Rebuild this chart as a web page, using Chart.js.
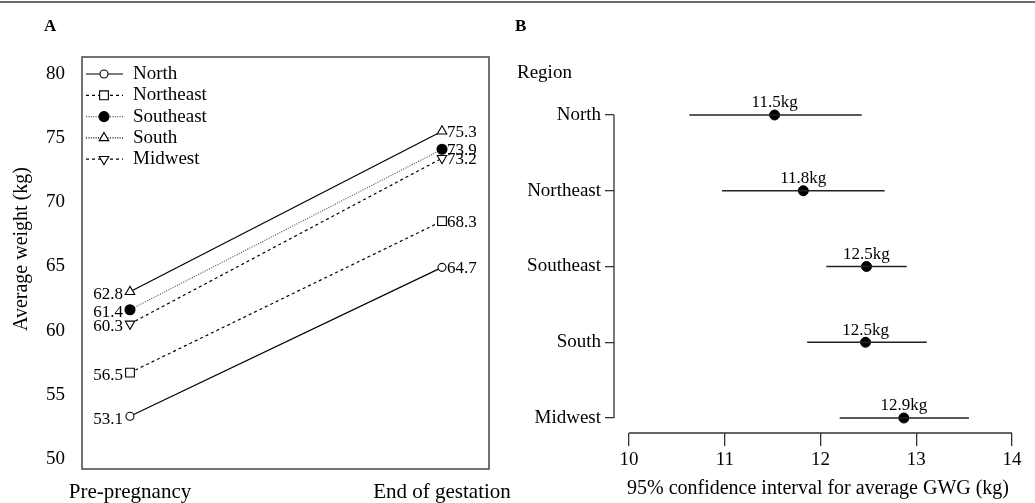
<!DOCTYPE html>
<html>
<head>
<title>Average weight and GWG by region</title>
<style>
  body { margin: 0; background: #fff; }
  #rule { position: absolute; left: 0; top: 1px; width: 1035px; height: 2px; background: #6b6b6b; }
  #chartA { position: absolute; left: 0; top: 0; }
  #chartB { position: absolute; left: 510px; top: 0; }
</style>
</head>
<body>

<div id="rule"></div>
<canvas id="chartA" width="530" height="503"></canvas>
<canvas id="chartB" width="525" height="503"></canvas>

<script src="https://cdn.jsdelivr.net/npm/chart.js"></script>

<script>
    // panel A data
    const periods = ['Pre-pregnancy', 'End of gestation'];
    const regions = ['North', 'Northeast', 'Southeast', 'South', 'Midwest'];
    const prePregnancy = [53.1, 56.5, 61.4, 62.8, 60.3];
    const endGestation = [64.7, 68.3, 73.9, 75.3, 73.2];
    const weightTicks = [50, 55, 60, 65, 70, 75, 80];

    // panel B data
    const gwgMean = [11.52, 11.82, 12.48, 12.47, 12.87];
    const gwgLow = [10.63, 10.97, 12.06, 11.86, 12.20];
    const gwgHigh = [12.43, 12.67, 12.90, 13.11, 13.55];
    const gwgTicks = [10, 11, 12, 13, 14];

    const SERIF = "'Liberation Serif', 'DejaVu Serif', serif";
    const font = (size, weight) => ({ family: SERIF, size: size, weight: weight || 'normal' });

    // marker / line look for each region
    const looks = [
        { point: 'circle',   radius: 4,   rotation: 0,   filled: false, color: '#000', dash: [],     legendDash: [] },
        { point: 'rect',     radius: 6.2, rotation: 0,   filled: false, color: '#000', dash: [3, 3], legendDash: [3, 3] },
        { point: 'circle',   radius: 5,   rotation: 0,   filled: true,  color: '#555', dash: [1, 1.4], legendDash: [1, 1.4] },
        { point: 'triangle', radius: 5.5, rotation: 0,   filled: false, color: '#000', dash: [],     legendDash: [1, 1.4] },
        { point: 'triangle', radius: 5.5, rotation: 180, filled: false, color: '#000', dash: [3, 3], legendDash: [3, 3] }
    ];

    const datasetsA = regions.map((name, i) => ({
        label: name,
        data: [{ x: 0, y: prePregnancy[i] }, { x: 1, y: endGestation[i] }],
        showLine: true,
        borderColor: looks[i].color,
        borderWidth: 1.2,
        borderDash: looks[i].dash,
        pointStyle: looks[i].point,
        pointRotation: looks[i].rotation,
        pointRadius: looks[i].radius,
        pointBorderWidth: 1.1,
        pointBorderColor: '#000',
        pointBackgroundColor: looks[i].filled ? '#000' : '#fff'
    }));

    const panelAExtras = {
        id: 'panelAExtras',
        afterDatasetsDraw(chart) {
            const ctx = chart.ctx;
            const area = chart.chartArea;
            ctx.save();

            // box
            ctx.strokeStyle = '#444';
            ctx.lineWidth = 1.5;
            ctx.setLineDash([]);
            ctx.strokeRect(area.left, area.top, area.right - area.left, area.bottom - area.top);

            // value labels
            ctx.fillStyle = '#000';
            ctx.font = "17px " + SERIF;
            ctx.textBaseline = 'middle';
            chart.data.datasets.forEach((ds, i) => {
                const pts = chart.getDatasetMeta(i).data;
                ctx.textAlign = 'right';
                ctx.fillText(prePregnancy[i].toFixed(1), pts[0].x - 7, pts[0].y + 3);
                ctx.textAlign = 'left';
                ctx.fillText(endGestation[i].toFixed(1), pts[1].x + 5, pts[1].y + 1);
            });

            // legend inside the box
            ctx.font = "19px " + SERIF;
            regions.forEach((name, i) => {
                const y = area.top + 17 + i * 21.3;
                const lk = looks[i];
                ctx.strokeStyle = lk.color;
                ctx.lineWidth = 1.2;
                ctx.setLineDash(lk.legendDash);
                ctx.beginPath();
                ctx.moveTo(area.left + 4, y);
                ctx.lineTo(area.left + 41, y);
                ctx.stroke();
                ctx.setLineDash([]);
                ctx.strokeStyle = '#000';
                ctx.fillStyle = lk.filled ? '#000' : '#fff';
                ctx.lineWidth = 1.1;
                Chart.helpers.drawPoint(ctx, {
                    pointStyle: lk.point, rotation: lk.rotation,
                    radius: lk.radius, borderWidth: 1.1
                }, area.left + 22, y);
                ctx.fillStyle = '#000';
                ctx.textAlign = 'left';
                ctx.fillText(name, area.left + 51, y);
            });

            // panel letter and y title
            ctx.font = "bold 17px " + SERIF;
            ctx.fillText('A', 44, 27);
            ctx.font = "20px " + SERIF;
            ctx.translate(22, 249);
            ctx.rotate(-Math.PI / 2);
            ctx.textAlign = 'center';
            ctx.fillText('Average weight (kg)', 0, 0);
            ctx.restore();
        }
    };

    new Chart(document.getElementById('chartA'), {
        type: 'scatter',
        data: { datasets: datasetsA },
        options: {
            responsive: false,
            animation: false,
            layout: { padding: { top: 57, right: 41, left: 0, bottom: 0 } },
            plugins: { legend: { display: false }, tooltip: { enabled: false } },
            scales: {
                x: {
                    type: 'linear',
                    min: -0.1538,
                    max: 1.1506,
                    grid: { display: false, drawTicks: false },
                    border: { display: false },
                    afterBuildTicks: s => { s.ticks = periods.map((p, i) => ({ value: i })); },
                    ticks: { callback: v => periods[v], font: font(21), color: '#000', padding: 11, maxRotation: 0, autoSkip: false },
                    afterFit: s => { s.height = 34; }
                },
                y: {
                    min: 48.99,
                    max: 81.09,
                    grid: { display: false, drawTicks: false },
                    border: { display: false },
                    afterBuildTicks: s => { s.ticks = weightTicks.map(v => ({ value: v })); },
                    ticks: { font: font(19), color: '#000', padding: 17, labelOffset: 3 },
                    afterFit: s => { s.width = 82; }
                }
            }
        },
        plugins: [panelAExtras]
    });

    // panel B
    const ciSets = regions.map((name, i) => ({
        label: name + ' CI',
        data: [{ x: gwgLow[i], y: i }, { x: gwgHigh[i], y: i }],
        showLine: true,
        borderColor: '#222',
        borderWidth: 1.3,
        pointRadius: 0
    }));

    const meanSet = {
        label: 'Average GWG',
        data: regions.map((name, i) => ({ x: gwgMean[i], y: i })),
        pointRadius: 5,
        pointBackgroundColor: '#000',
        pointBorderColor: '#000',
        showLine: false
    };

    const panelBExtras = {
        id: 'panelBExtras',
        afterDatasetsDraw(chart) {
            const ctx = chart.ctx;
            const area = chart.chartArea;
            const xs = chart.scales.x, ys = chart.scales.y;
            ctx.save();

            // detached axis lines, R style
            ctx.strokeStyle = '#333';
            ctx.lineWidth = 1.3;
            ctx.beginPath();
            ctx.moveTo(area.left, ys.getPixelForValue(0));
            ctx.lineTo(area.left, ys.getPixelForValue(regions.length - 1));
            ctx.moveTo(xs.getPixelForValue(gwgTicks[0]), area.bottom);
            ctx.lineTo(xs.getPixelForValue(gwgTicks[gwgTicks.length - 1]), area.bottom);
            ctx.stroke();

            // value labels above points
            const pts = chart.getDatasetMeta(chart.data.datasets.length - 1).data;
            ctx.fillStyle = '#000';
            ctx.font = "17px " + SERIF;
            ctx.textAlign = 'center';
            ctx.textBaseline = 'middle';
            pts.forEach((p, i) => {
                ctx.fillText(gwgMean[i].toFixed(1) + 'kg', p.x, p.y - 12);
            });

            ctx.textAlign = 'left';
            ctx.font = "bold 17px " + SERIF;
            ctx.fillText('B', 5, 27);
            ctx.font = "19px " + SERIF;
            ctx.fillText('Region', 7, 73);
            ctx.restore();
        }
    };

    new Chart(document.getElementById('chartB'), {
        type: 'scatter',
        data: { datasets: ciSets.concat([meanSet]) },
        options: {
            responsive: false,
            animation: false,
            layout: { padding: { top: 95, right: 13, left: 0, bottom: 0 } },
            plugins: { legend: { display: false }, tooltip: { enabled: false } },
            scales: {
                x: {
                    type: 'linear',
                    min: 9.843,
                    max: 14.104,
                    grid: { drawOnChartArea: false, drawTicks: true, tickLength: 13, color: '#333', lineWidth: 1.3 },
                    border: { display: false },
                    afterBuildTicks: s => { s.ticks = gwgTicks.map(v => ({ value: v })); },
                    ticks: { font: font(19), color: '#000', padding: 3, maxRotation: 0 },
                    title: { display: true, text: '95% confidence interval for average GWG (kg)', font: font(20), color: '#000', padding: { top: 0, bottom: 2 } },
                    afterFit: s => { s.height = 70; }
                },
                y: {
                    type: 'linear',
                    reverse: true,
                    min: -0.264,
                    max: 4.198,
                    grid: { drawOnChartArea: false, drawTicks: true, tickLength: 9, color: '#333', lineWidth: 1.3 },
                    border: { display: false },
                    afterBuildTicks: s => { s.ticks = regions.map((r, i) => ({ value: i })); },
                    ticks: { callback: v => regions[v], font: font(19), color: '#000', padding: 4 },
                    afterFit: s => { s.width = 104; }
                }
            }
        },
        plugins: [panelBExtras]
    });
</script>

</body>
</html>
